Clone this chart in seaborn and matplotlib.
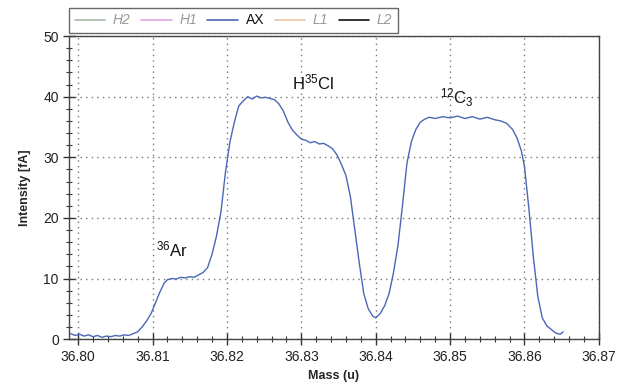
import matplotlib
matplotlib.use("Agg")
import matplotlib.pyplot as plt
from matplotlib.lines import Line2D
from matplotlib.ticker import MultipleLocator
import seaborn as sns
import pandas as pd

# --- data (mass in u, intensity in fA) ---
mass = [36.7990, 36.7996, 36.8002, 36.8008, 36.8014, 36.8020, 36.8026, 36.8032,
        36.8038, 36.8044, 36.8050, 36.8056, 36.8062, 36.8068, 36.8074, 36.8080,
        36.8086, 36.8092, 36.8098, 36.8104, 36.8110, 36.8116, 36.8120, 36.8126,
        36.8132, 36.8138, 36.8144, 36.8150, 36.8156, 36.8162, 36.8168, 36.8174,
        36.8180, 36.8186, 36.8192, 36.8198, 36.8204, 36.8210, 36.8216, 36.8222,
        36.8228, 36.8234, 36.8240, 36.8246, 36.8252, 36.8258, 36.8264, 36.8270,
        36.8276, 36.8282, 36.8288, 36.8294, 36.8300, 36.8306, 36.8312, 36.8318,
        36.8324, 36.8330, 36.8336, 36.8342, 36.8348, 36.8354, 36.8360, 36.8366,
        36.8372, 36.8378, 36.8384, 36.8390, 36.8396, 36.8400, 36.8406, 36.8412,
        36.8418, 36.8424, 36.8430, 36.8436, 36.8442, 36.8448, 36.8454, 36.8460,
        36.8466, 36.8472, 36.8480, 36.8490, 36.8500, 36.8510, 36.8520, 36.8530,
        36.8540, 36.8550, 36.8560, 36.8568, 36.8576, 36.8584, 36.8590, 36.8596,
        36.8600, 36.8606, 36.8612, 36.8618, 36.8624, 36.8630, 36.8636, 36.8642,
        36.8648, 36.8652]
intensity = [0.9, 0.6, 0.8, 0.5, 0.7, 0.4, 0.6, 0.3,
             0.5, 0.4, 0.6, 0.5, 0.7, 0.6, 0.9, 1.2,
             2.0, 3.0, 4.2, 6.0, 7.8, 9.3, 9.8, 10.0,
             9.9, 10.2, 10.1, 10.3, 10.2, 10.6, 11.0, 11.8,
             14.0, 17.0, 21.0, 27.5, 32.5, 35.8, 38.5, 39.3,
             40.0, 39.6, 40.1, 39.8, 39.9, 39.7, 39.5, 38.8,
             37.6, 35.8, 34.5, 33.7, 33.0, 32.8, 32.4, 32.6,
             32.2, 32.3, 31.9, 31.4, 30.4, 28.8, 27.0, 23.5,
             18.0, 12.5, 7.5, 5.0, 3.8, 3.5, 4.2, 5.5,
             7.5, 11.0, 15.5, 22.0, 29.0, 32.6, 34.6, 35.8,
             36.3, 36.6, 36.4, 36.7, 36.5, 36.8, 36.4, 36.7,
             36.3, 36.6, 36.2, 36.0, 35.6, 34.6, 33.2, 31.0,
             28.5, 21.5, 13.5, 7.0, 3.5, 2.2, 1.6, 1.0,
             0.8, 1.2]

x_ticks = [36.80, 36.81, 36.82, 36.83, 36.84, 36.85, 36.86, 36.87]
y_ticks = [0, 10, 20, 30, 40, 50]

channels = ["H2", "H1", "AX", "L1", "L2"]
channel_colors = ["#a9bba9", "#e3a6e3", "#4a67b8", "#f0c4a4", "#111111"]

peak_labels = [r"$\mathregular{^{36}Ar}$", r"$\mathregular{H^{35}Cl}$",
               r"$\mathregular{^{12}C_{3}}$"]
peak_pos = [(36.8104, 14.8), (36.8288, 42.3), (36.8486, 39.8)]

df = pd.DataFrame({"mass": mass, "intensity": intensity})

sns.set_style("white")
plt.rcParams["font.family"] = ["Liberation Sans", "DejaVu Sans"]
plt.rcParams["mathtext.fontset"] = "custom"
plt.rcParams["mathtext.rm"] = "Noto Sans"

fig = plt.figure(figsize=(6.18, 3.88), dpi=100)
ax = fig.add_axes([0.112, 0.126, 0.857, 0.781])

sns.lineplot(data=df, x="mass", y="intensity", ax=ax, color=channel_colors[2],
             linewidth=1.0)

ax.set_xlim(36.7988, 36.87)
ax.set_ylim(0, 50)
ax.set_xticks(x_ticks)
ax.set_xticklabels([f"{t:.2f}" for t in x_ticks])
ax.set_yticks(y_ticks)
ax.xaxis.set_minor_locator(MultipleLocator(0.002))
ax.yaxis.set_minor_locator(MultipleLocator(2))
ax.tick_params(axis="both", which="major", direction="inout", length=8,
               width=1, color="#333333", labelsize=10, labelcolor="#222222",
               bottom=True, left=True)
ax.tick_params(axis="both", which="minor", direction="inout", length=4,
               width=0.8, color="#333333", bottom=True, left=True)

ax.grid(True, which="major", linestyle=(0, (1, 3)), color="#777777", linewidth=1)
for s in ax.spines.values():
    s.set_visible(True)
    s.set_color("#444444")
    s.set_linewidth(1.0)

ax.set_xlabel("Mass (u)", fontsize=9, fontweight="bold", labelpad=5)
ax.set_ylabel("Intensity [fA]", fontsize=9, fontweight="bold", labelpad=9)

for lab, (px, py) in zip(peak_labels, peak_pos):
    ax.text(px, py, lab, fontsize=12, ha="left", va="center", color="#111111")

handles = [Line2D([], [], color=c, linewidth=1.2) for c in channel_colors]
leg = ax.legend(handles, channels, ncol=5, loc="lower left",
                bbox_to_anchor=(0.0, 1.01), frameon=True, fancybox=False,
                fontsize=10, handlelength=2.2, columnspacing=0.75,
                handletextpad=0.55, borderpad=0.4, borderaxespad=0)
leg.get_frame().set_edgecolor("#444444")
leg.get_frame().set_linewidth(1.0)
for i, t in enumerate(leg.get_texts()):
    if channels[i] != "AX":
        t.set_style("italic")
        t.set_color("#999999")
    else:
        t.set_color("#111111")

fig.savefig("out.png", dpi=100)
